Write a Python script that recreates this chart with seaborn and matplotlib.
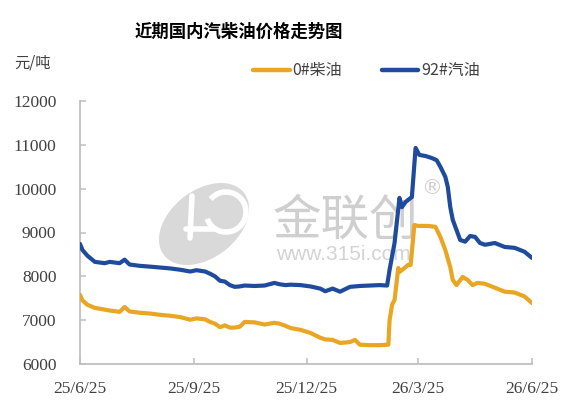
import matplotlib
matplotlib.use("Agg")
import matplotlib.pyplot as plt
import seaborn as sns
import numpy as np
import pandas as pd
from matplotlib.patches import Ellipse, Arc
from matplotlib.transforms import IdentityTransform

# 92# gasoline (yuan/ton)
gas_dates = ['2025-06-25', '2025-06-27', '2025-07-01', '2025-07-07', '2025-07-15', '2025-07-19',
             '2025-07-27', '2025-07-31', '2025-08-04', '2025-08-12', '2025-08-21', '2025-08-29',
             '2025-09-06', '2025-09-14', '2025-09-22', '2025-09-27', '2025-10-04', '2025-10-08',
             '2025-10-12', '2025-10-16', '2025-10-20', '2025-10-24', '2025-10-28', '2025-11-01',
             '2025-11-05', '2025-11-13', '2025-11-21', '2025-11-29', '2025-12-03', '2025-12-08',
             '2025-12-12', '2025-12-20', '2025-12-28', '2026-01-05', '2026-01-09', '2026-01-15',
             '2026-01-21', '2026-01-29', '2026-02-02', '2026-02-06', '2026-02-14', '2026-02-22',
             '2026-02-28', '2026-03-02', '2026-03-06', '2026-03-10', '2026-03-12', '2026-03-15',
             '2026-03-20', '2026-03-23', '2026-03-26', '2026-03-31', '2026-04-05', '2026-04-09',
             '2026-04-12', '2026-04-16', '2026-04-18', '2026-04-20', '2026-04-22', '2026-04-25',
             '2026-04-28', '2026-05-02', '2026-05-06', '2026-05-10', '2026-05-14', '2026-05-18',
             '2026-05-26', '2026-06-03', '2026-06-11', '2026-06-19', '2026-06-25']
gas = [8740, 8600, 8470, 8330, 8300, 8330,
       8300, 8380, 8270, 8240, 8220, 8200,
       8180, 8150, 8110, 8140, 8110, 8060,
       8000, 7900, 7880, 7800, 7760, 7770,
       7790, 7780, 7790, 7850, 7820, 7800,
       7810, 7800, 7770, 7720, 7660, 7720,
       7650, 7760, 7770, 7780, 7790, 7800,
       7790, 8150, 8760, 9790, 9580, 9700,
       9810, 10930, 10770, 10745, 10700, 10650,
       10500, 10270, 10040, 9580, 9290, 9060,
       8830, 8790, 8920, 8900, 8760, 8720,
       8760, 8670, 8650, 8560, 8420]

# 0# diesel (yuan/ton)
diesel_dates = ['2025-06-25', '2025-06-27', '2025-07-01', '2025-07-07', '2025-07-15', '2025-07-19',
                '2025-07-27', '2025-07-31', '2025-08-04', '2025-08-12', '2025-08-21', '2025-08-29',
                '2025-09-06', '2025-09-14', '2025-09-22', '2025-09-27', '2025-10-04', '2025-10-08',
                '2025-10-12', '2025-10-16', '2025-10-20', '2025-10-24', '2025-10-28', '2025-11-01',
                '2025-11-05', '2025-11-13', '2025-11-21', '2025-11-29', '2025-12-03', '2025-12-08',
                '2025-12-12', '2025-12-20', '2025-12-28', '2026-01-05', '2026-01-09', '2026-01-15',
                '2026-01-21', '2026-01-29', '2026-02-02', '2026-02-06', '2026-02-14', '2026-02-22',
                '2026-03-01', '2026-03-02', '2026-03-04', '2026-03-06', '2026-03-09', '2026-03-10',
                '2026-03-14', '2026-03-17', '2026-03-19', '2026-03-22', '2026-03-25', '2026-04-02',
                '2026-04-08', '2026-04-12', '2026-04-16', '2026-04-20', '2026-04-22', '2026-04-25',
                '2026-04-30', '2026-05-04', '2026-05-08', '2026-05-12', '2026-05-18', '2026-05-26',
                '2026-06-03', '2026-06-11', '2026-06-19', '2026-06-25']
diesel = [7580, 7450, 7350, 7280, 7240, 7220,
          7190, 7300, 7200, 7170, 7150, 7120,
          7100, 7070, 7010, 7040, 7020, 6960,
          6920, 6840, 6880, 6830, 6830, 6850,
          6960, 6950, 6900, 6940, 6920, 6870,
          6820, 6780, 6710, 6600, 6560, 6550,
          6480, 6500, 6550, 6440, 6430, 6430,
          6440, 7000, 7350, 7460, 8190, 8100,
          8190, 8260, 8260, 9170, 9150, 9150,
          9130, 8900, 8600, 8210, 7920, 7800,
          7985, 7920, 7800, 7850, 7830, 7740,
          7650, 7630, 7540, 7390]

series_names = ['0#柴油', '92#汽油']
series_colors = ['#E9A623', '#1F4B9D']
x_ticks = ['2025-06-25', '2025-09-25', '2025-12-25', '2026-03-25', '2026-06-25']
x_tick_labels = ['25/6/25', '25/9/25', '25/12/25', '26/3/25', '26/6/25']
y_ticks = [6000, 7000, 8000, 9000, 10000, 11000, 12000]

df = pd.concat([
    pd.DataFrame({'date': pd.to_datetime(diesel_dates), 'price': diesel, 'name': series_names[0]}),
    pd.DataFrame({'date': pd.to_datetime(gas_dates), 'price': gas, 'name': series_names[1]}),
])

sns.set_style("white")
cjk = ['Noto Sans CJK SC', 'DejaVu Sans']
plt.rcParams['font.family'] = cjk

fig = plt.figure(figsize=(5.84, 4.13), dpi=100)
ax = fig.add_axes([80 / 584, 1 - 364 / 413, 452 / 584, 263 / 413])

sns.lineplot(data=df, x='date', y='price', hue='name', hue_order=series_names,
             palette=series_colors, linewidth=3, ax=ax, zorder=3, legend=False)

# watermark (logo + text) behind the lines
px = IdentityTransform()
ax.add_patch(Ellipse((204, 413 - 224), 100, 66, angle=38, color='#D9D9D9',
                     transform=px, clip_on=False, zorder=1))
ax.add_patch(Arc((226, 413 - 212), 40, 40, theta1=200, theta2=140, color='white', lw=4,
                 transform=px, clip_on=False, zorder=1))
ax.plot([192, 190], [413 - 196, 413 - 238], color='white', lw=4, transform=px, zorder=1)
ax.plot([186, 214], [413 - 229, 413 - 229], color='white', lw=4, transform=px, zorder=1)
ax.text(345, 413 - 221, '金联创', transform=px, ha='center', va='center',
        fontsize=35, color='#CFCFCF', zorder=1, family=cjk)
ax.text(432, 413 - 188, '®', transform=px, ha='center', va='center',
        fontsize=15, color='#CFCFCF', zorder=1, family=['DejaVu Sans'])
ax.text(343, 413 - 255, 'www.315i.com', transform=px, ha='center', va='center',
        fontsize=15, color='#D3D3D3', zorder=1, family=['Liberation Sans'])

ax.set_xlim(pd.Timestamp(x_ticks[0]), pd.Timestamp(x_ticks[-1]))
ax.set_ylim(y_ticks[0], y_ticks[-1])
ax.set_xticks(pd.to_datetime(x_ticks))
ax.set_xticklabels(x_tick_labels)
ax.set_yticks(y_ticks)
ax.set_yticklabels([str(v) for v in y_ticks])
ax.set_xlabel('')
ax.set_ylabel('')

for side in ['top', 'right']:
    ax.spines[side].set_visible(False)
for side in ['left', 'bottom']:
    ax.spines[side].set_color('#BFBFBF')
    ax.spines[side].set_linewidth(1.3)

ax.tick_params(axis='both', direction='in', length=4, width=1.1, color='#BFBFBF',
               labelcolor='#404040', labelsize=12.5)
ax.tick_params(axis='y', pad=17, left=True)
ax.tick_params(axis='x', pad=12, bottom=True)
for lab in ax.get_xticklabels() + ax.get_yticklabels():
    lab.set_family('Liberation Serif')

fig.text(239 / 584, 1 - 32 / 413, '近期国内汽柴油价格走势图', ha='center', va='center',
         fontsize=12.5, fontweight='bold', color='black', family=cjk)
fig.text(33 / 584, 1 - 63 / 413, '元/吨', ha='center', va='center',
         fontsize=11, color='#404040', family=cjk)

handles = [plt.Line2D([], [], color=c, lw=3.2) for c in series_colors]
leg = fig.legend(handles, series_names, loc='center left',
                 bbox_to_anchor=(253 / 584, 1 - 71 / 413), ncol=2, frameon=False,
                 fontsize=11.5, handlelength=2.3, handletextpad=0.15, columnspacing=2.5,
                 borderpad=0, borderaxespad=0)
for t in leg.get_texts():
    t.set_color('#404040')

fig.savefig('out.png', dpi=100)
